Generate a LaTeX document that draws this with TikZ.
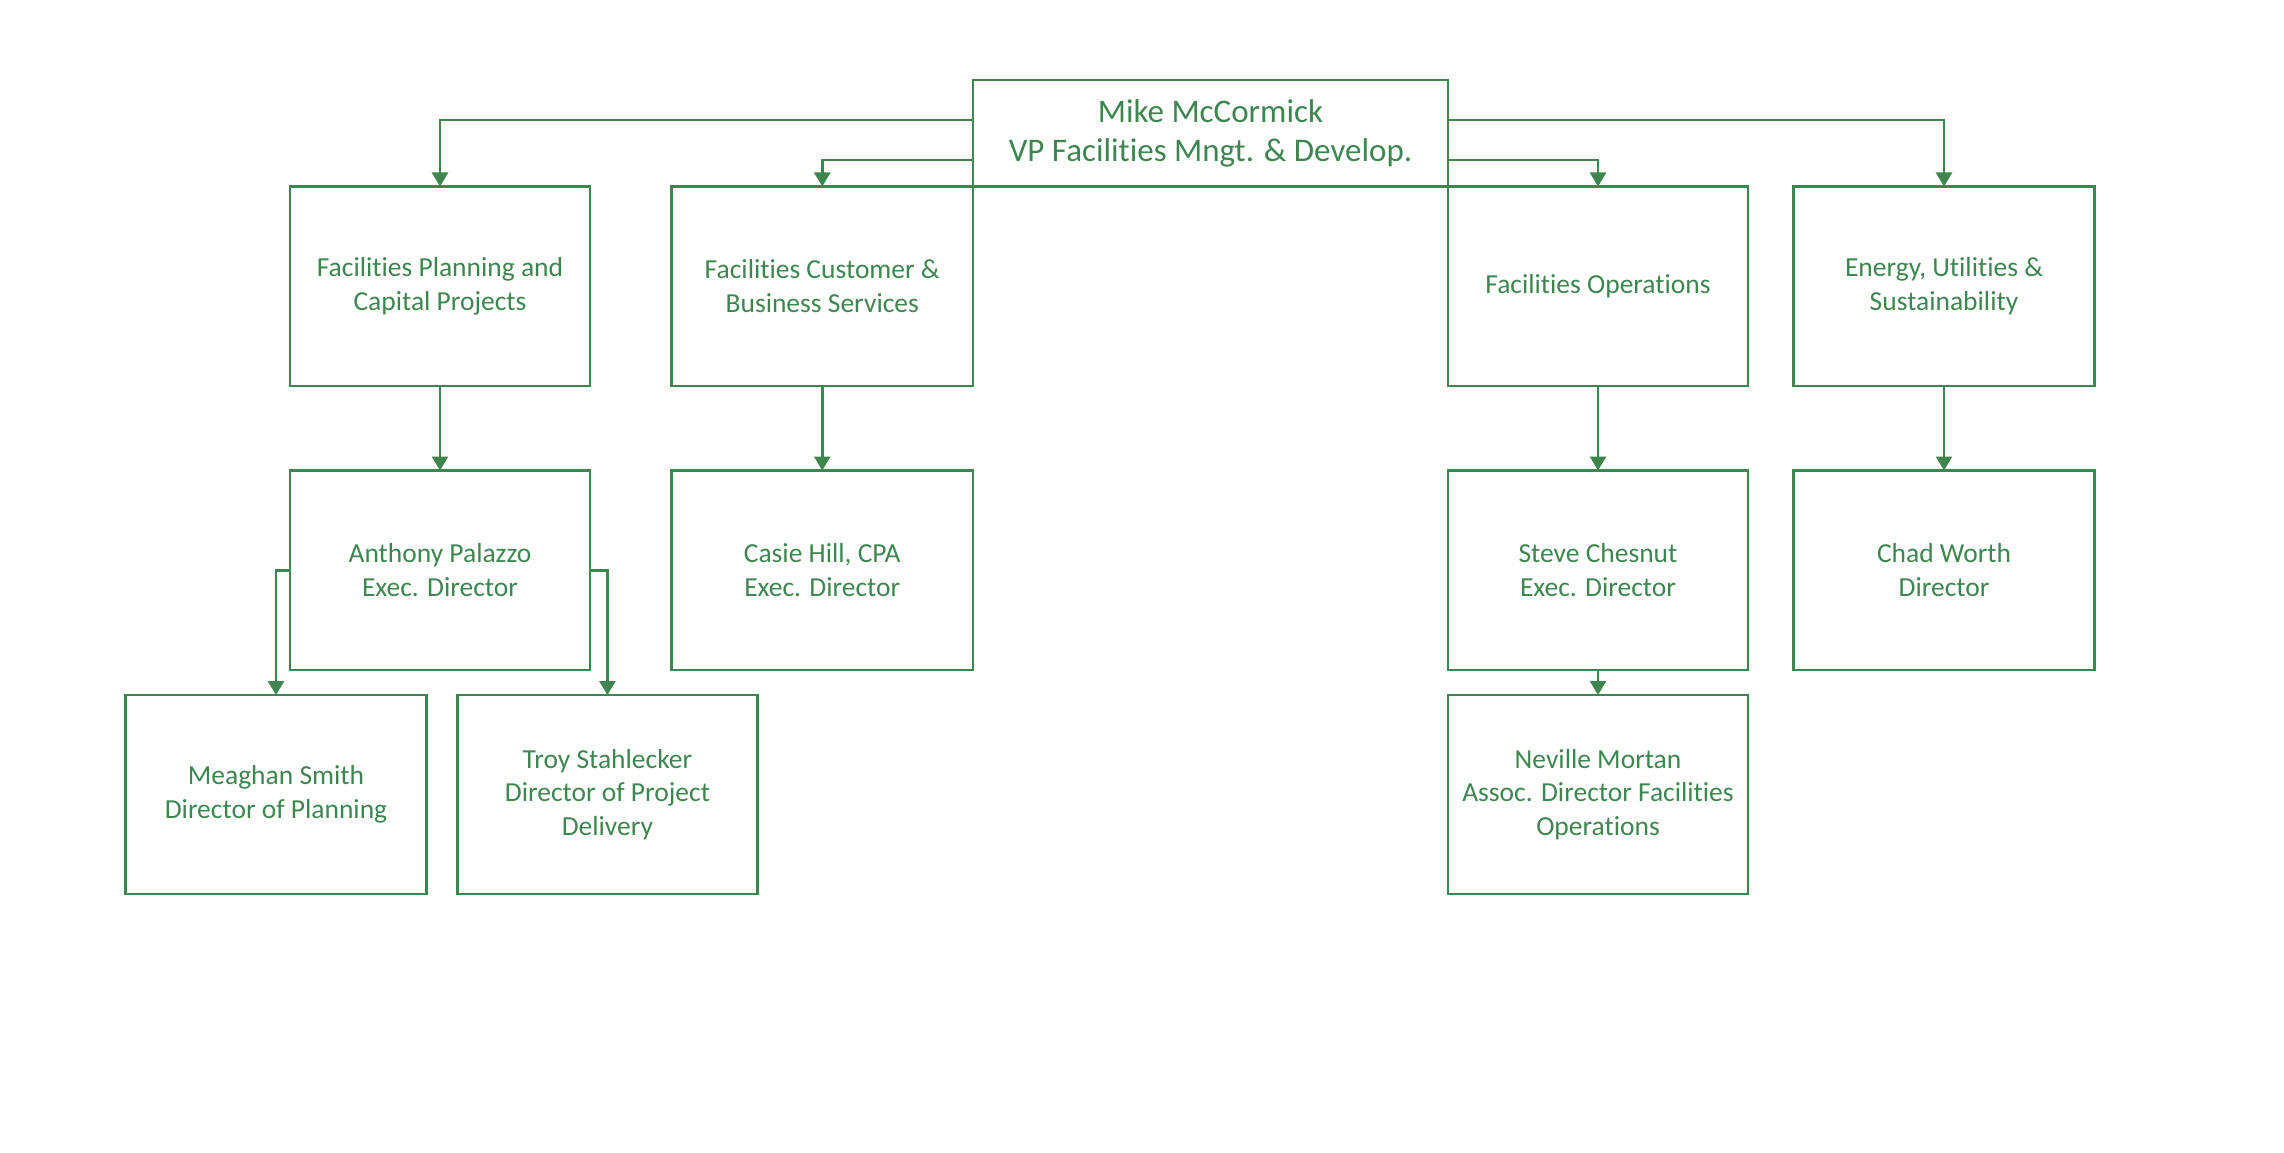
\documentclass[tikz,border=0pt]{standalone}
\usepackage{fontspec}
\setmainfont{Carlito}[Ligatures=CommonOff]
\usetikzlibrary{arrows.meta}
\definecolor{og}{RGB}{62,134,80}
\tikzset{
  box/.style={draw=og, line width=2.6pt, minimum height=199.5pt, minimum width=300pt,
    inner sep=0pt, outer sep=0pt, align=center, text=og,
    font=\fontsize{27.5}{33.5}\selectfont},
  topbox/.style={box, minimum width=475pt, minimum height=106.5pt,
    font=\fontsize{33}{39.5}\selectfont},
  conn/.style={draw=og, line width=2.6pt, -{Triangle[length=14pt,width=16pt]}}
}
\begin{document}
\begin{tikzpicture}[x=1pt,y=-1pt]
\useasboundingbox (0,0) rectangle (2284,1153);
\node[topbox] (top) at (1210.5,133.25) {Mike McCormick\\VP Facilities Mngt. \& Develop.};
\node[box] (fpc) at (440,286.25) {Facilities Planning and\\Capital Projects};
\node[box, minimum width=301.5pt] (fcb) at (822.25,286.25) {Facilities Customer \&\\Business Services};
\node[box] (fo) at (1598,286.25) {Facilities Operations};
\node[box, minimum width=301.5pt] (eus) at (1944,286.25) {Energy, Utilities \&\\Sustainability};
\node[box] (ap) at (440,570.25) {Anthony Palazzo\\Exec. Director};
\node[box, minimum width=301.5pt] (ch) at (822.25,570.25) {Casie Hill, CPA\\Exec. Director};
\node[box] (sc) at (1598,570.25) {Steve Chesnut\\Exec. Director};
\node[box, minimum width=301.5pt] (cw) at (1944,570.25) {Chad Worth\\Director};
\node[box, minimum width=301.5pt, minimum height=199pt] (ms) at (276,794.5) {Meaghan Smith\\Director of Planning};
\node[box, minimum height=199pt] (ts) at (607.4,794.5) {Troy Stahlecker\\Director of Project\\Delivery};
\node[box, minimum height=199pt] (nm) at (1598,794.5) {Neville Mortan\\Assoc. Director Facilities\\Operations};
% connectors from top
\draw[conn] ([yshift=13.25pt]top.west) -| (fpc.north);
\draw[conn] ([yshift=-26.75pt]top.west) -| (fcb.north);
\draw[conn] ([yshift=-26.75pt]top.east) -| (fo.north);
\draw[conn] ([yshift=13.25pt]top.east) -| (eus.north);
% row 1 to row 2
\draw[conn] (fpc.south) -- (ap.north);
\draw[conn] (fcb.south) -- (ch.north);
\draw[conn] (fo.south) -- (sc.north);
\draw[conn] (eus.south) -- (cw.north);
% row 2 to row 3
\draw[conn] (ap.west) -| (ms.north);
\draw[conn] (ap.east) -| (ts.north);
\draw[conn] (sc.south) -- (nm.north);
\end{tikzpicture}
\end{document}
